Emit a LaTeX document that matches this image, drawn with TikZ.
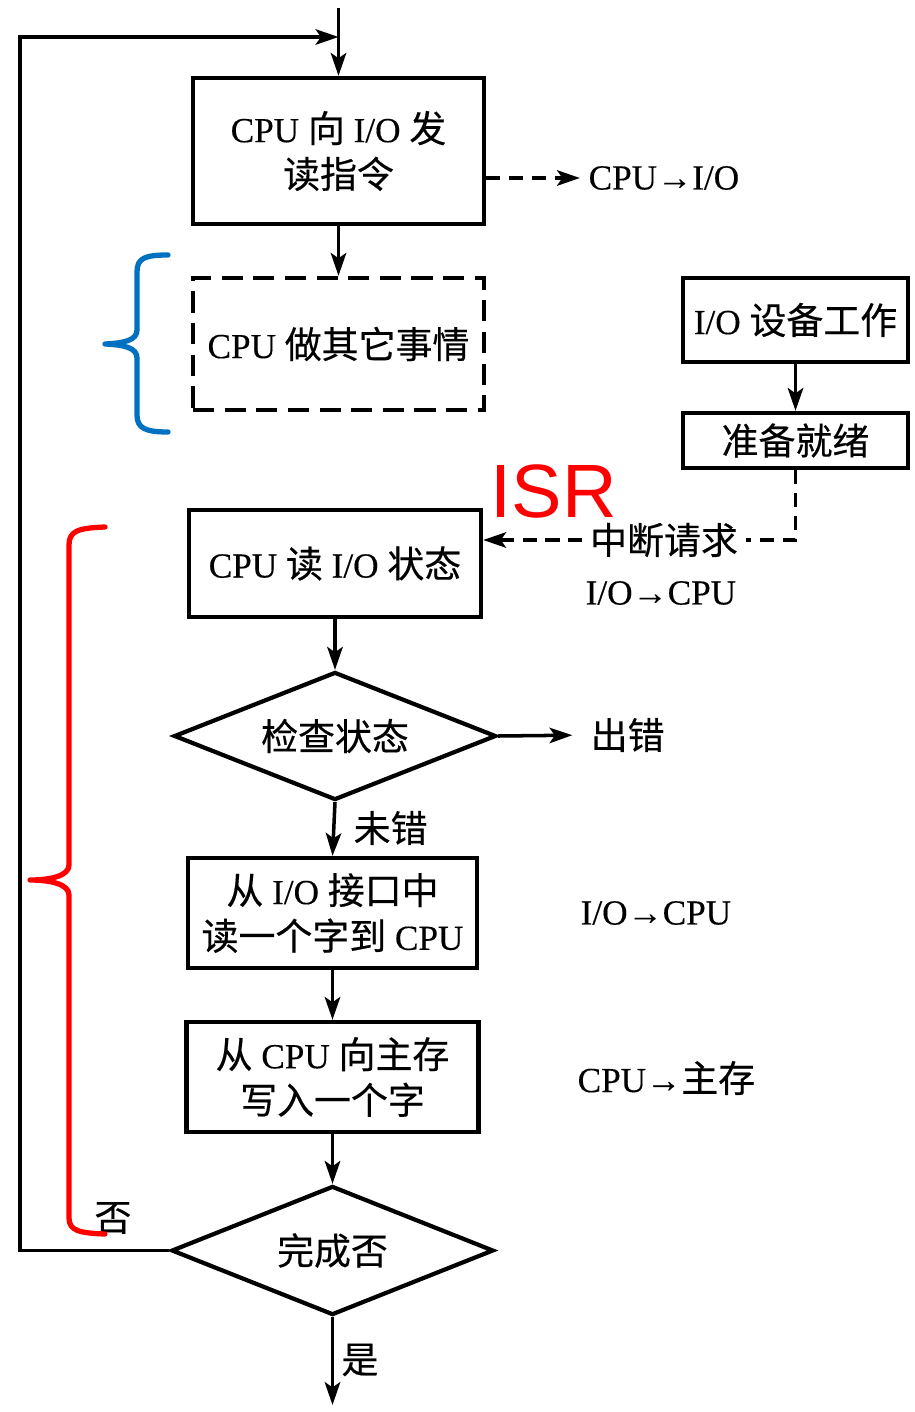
\documentclass[tikz,border=0pt]{standalone}
\usepackage{fontspec}
\setmainfont{Liberation Serif}[FakeBold=0.3]
\newfontfamily\cjk[Scale=1.05,FakeBold=0.4]{Noto Sans CJK SC}
\newfontfamily\isrfont{Liberation Sans}
\newcommand\zh[1]{{\cjk #1}}
\usetikzlibrary{shapes.geometric,arrows.meta,calc}
\definecolor{bbl}{RGB}{0,112,192}
\begin{document}
\begin{tikzpicture}[x=0.01cm,y=-0.01cm,
  box/.style={draw,line width=1.2pt,rectangle,inner sep=0,align=center,font=\fontsize{10}{13}\selectfont},
  dbox/.style={box,dash pattern=on 6pt off 3pt},
  dia/.style={draw,line width=1.2pt,diamond,aspect=2.5,inner sep=0,font=\fontsize{10}{13}\selectfont},
  arr/.style={line width=1pt,-{Stealth[length=6.5pt,width=4.4pt,inset=1.5pt]}},
  darr/.style={arr,dash pattern=on 4pt off 2.5pt},
  dline/.style={line width=1pt,dash pattern=on 4pt off 2.5pt},
  lbl/.style={font=\fontsize{10}{13}\selectfont,inner sep=0},
  bracepath/.style={line width=1.5pt,line cap=round,line join=round}
]
\useasboundingbox (0,0) rectangle (914,1412);

% main boxes
\node[box,minimum width=2.91cm,minimum height=1.46cm] (b1) at (338.5,151) {CPU \zh{向} I/O \zh{发}\\\zh{读指令}};
\node[dbox,minimum width=2.91cm,minimum height=1.32cm] (b2) at (338.5,344) {CPU \zh{做其它事情}};
\node[box,minimum width=2.25cm,minimum height=0.84cm] (io) at (795.5,320) {I/O \zh{设备工作}};
\node[box,minimum width=2.25cm,minimum height=0.55cm] (rd) at (795.5,440.5) {\zh{准备就绪}};
\node[box,minimum width=2.92cm,minimum height=1.07cm] (b3) at (335,563.5) {CPU \zh{读} I/O \zh{状态}};
\node[dia,minimum width=3.22cm,minimum height=1.28cm] (c1) at (335,736) {\zh{检查状态}};
\node[box,minimum width=2.89cm,minimum height=1.10cm] (b4) at (332.5,913) {\zh{从} I/O \zh{接口中}\\\zh{读一个字到} CPU};
\node[box,minimum width=2.92cm,minimum height=1.10cm] (b5) at (332.5,1077) {\zh{从} CPU \zh{向主存}\\\zh{写入一个字}};
\node[dia,minimum width=3.22cm,minimum height=1.29cm] (c2) at (332.5,1250.5) {\zh{完成否}};

% labels
\node[lbl,anchor=west] (o1) at (588,178) {CPU→I/O};
\node[lbl] (int) at (664,540) {\zh{中断请求}};
\node[lbl,anchor=west] (o2) at (585,593) {I/O→CPU};
\node[lbl,anchor=west] (err) at (590,735) {\zh{出错}};
\node[lbl,anchor=west] (ok) at (353,828) {\zh{未错}};
\node[lbl,anchor=west] (o3) at (580,913) {I/O→CPU};
\node[lbl,anchor=west] (o4) at (577,1078) {CPU→\zh{主存}};
\node[lbl] (no) at (113,1218) {\zh{否}};
\node[lbl] (yes) at (360,1360) {\zh{是}};
\node[anchor=west,inner sep=0,text=red,font=\isrfont\fontsize{21.5}{24}\selectfont] (isr) at (490,491) {ISR};

% coordinates
\coordinate (top) at (338.5,8);
\coordinate (lt) at (20,37);
\coordinate (join) at (338.5,37);
\coordinate (y178) at (0,178);
\coordinate (b1r) at (b1.east |- y178);
\coordinate (end) at (332.5,1405);

% connectors
\draw[arr] (top) -- (b1.north);
\draw[arr] (c2.west) -| (lt) -- (join);
\draw[arr] (b1.south) -- (b2.north);
\draw[darr,shorten >=2.3pt] (b1r) -- (o1.west);
\draw[arr] (io.south) -- (rd.north);
\draw[dline] (rd.south) |- ([xshift=2pt]int.east);
\draw[darr,shorten <=2pt] (int.west) -- (b3.east |- int.west);
\draw[arr] (b3.south) -- (c1.north);
\draw[arr,shorten >=5pt] (c1.east) -- (err.west);
\draw[arr] (c1.south) -- (b4.north);
\draw[arr] (b4.south) -- (b5.north);
\draw[arr] (b5.south) -- (c2.north);
\draw[arr] (c2.south) -- (end);

% braces
\draw[bracepath,bbl] (168,255) .. controls (145,255) and (137,258) .. (137,272) -- (137,330)
  .. controls (137,340) and (125,343) .. (105,344)
  .. controls (125,345) and (137,348) .. (137,358) -- (137,415)
  .. controls (137,428) and (145,432) .. (168,432);
\draw[bracepath,red] (105,527) .. controls (78,528) and (69,531) .. (69,545) -- (69,865)
  .. controls (69,876) and (50,880) .. (30,880)
  .. controls (50,880) and (69,884) .. (69,895) -- (69,1218)
  .. controls (69,1231) and (80,1233) .. (105,1234);
\end{tikzpicture}
\end{document}
